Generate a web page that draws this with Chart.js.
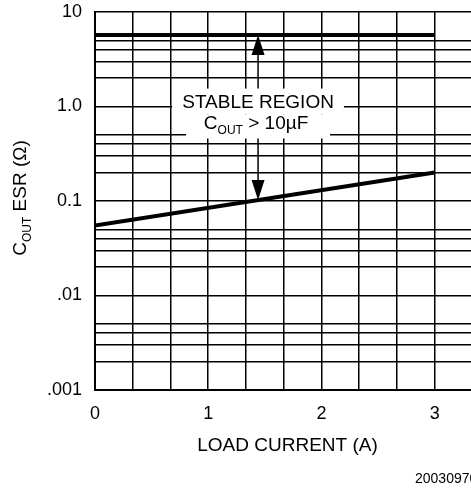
<!DOCTYPE html>
<html>
<head>
<meta charset="utf-8">
<script src="https://cdn.jsdelivr.net/npm/chart.js@4/dist/chart.umd.min.js"></script>
<style>
  html, body { margin: 0; padding: 0; background: #fff; overflow: hidden; }
  #wrap { width: 480px; height: 489px; }
</style>
</head>
<body>
<div id="wrap"><canvas id="esrChart" width="480" height="489"></canvas></div>
<script>
// ESR stability boundaries vs load current
const loadCurrent = [0, 3];
const esrUpper = [5.7, 5.7];
const esrLower = [0.055, 0.2];

const xTickLabels = [0, 1, 2, 3];
const xMinorPerUnit = 3;
const xMax = 3.4;
const yDecades = [0.001, 0.01, 0.1, 1, 10];
const yDecadeLabels = ['.001', '.01', '0.1', '1.0', '10'];
const yGridSteps = [1, 2, 3, 4, 5];

const arrowAt = 1.44;   // load current where the arrows sit
const FONT = 'Arial, "Liberation Sans", Helvetica, sans-serif';

Chart.defaults.font.family = FONT;
Chart.defaults.color = '#000';

const xGrid = [];
for (let i = 0; i <= Math.floor(xMax * xMinorPerUnit); i++) xGrid.push(i / xMinorPerUnit);

const yGrid = [];
yDecades.slice(0, -1).forEach(d => yGridSteps.forEach(s => yGrid.push(d * s)));
yGrid.push(yDecades[yDecades.length - 1]);

// text with a subscript part, centred on x
function drawParts(ctx, parts, x, y) {
    let w = 0;
    parts.forEach(p => {
        ctx.font = (p.sub ? '12px ' : '19px ') + FONT;
        p.w = ctx.measureText(p.t).width;
        w += p.w;
    });
    let cx = x - w / 2;
    ctx.textAlign = 'left';
    ctx.textBaseline = 'middle';
    parts.forEach(p => {
        ctx.font = (p.sub ? '12px ' : '19px ') + FONT;
        ctx.fillText(p.t, cx, p.sub ? y + 7 : y);
        cx += p.w;
    });
    return w;
}

function arrow(ctx, x, from, to) {
    const dir = to > from ? 1 : -1;
    const base = to - dir * 20;
    ctx.beginPath();
    ctx.moveTo(x, from);
    ctx.lineTo(x, base);
    ctx.stroke();
    ctx.beginPath();
    ctx.moveTo(x, to);
    ctx.lineTo(x - 6.5, base);
    ctx.lineTo(x + 6.5, base);
    ctx.closePath();
    ctx.fill();
}

const stableRegion = {
    id: 'stableRegion',
    afterDatasetsDraw(chart) {
        const {ctx, scales: {x, y}} = chart;
        const ax = x.getPixelForValue(arrowAt);
        const y1 = y.getPixelForValue(1.1);
        const y2 = y.getPixelForValue(0.66);

        ctx.save();
        ctx.fillStyle = '#fff';
        ctx.font = '19px ' + FONT;
        const w1 = ctx.measureText('STABLE REGION').width;
        ctx.fillRect(ax - w1 / 2 - 10, y1 - 14, w1 + 20, 26);
        ctx.fillRect(ax - 72, y2 - 9, 144, 24);

        ctx.fillStyle = '#000';
        ctx.textAlign = 'center';
        ctx.textBaseline = 'middle';
        ctx.fillText('STABLE REGION', ax, y1);
        drawParts(ctx, [{t: 'C'}, {t: 'OUT', sub: true}, {t: ' > 10\u00b5F'}], ax - 2, y2);

        // arrows to the two boundaries
        ctx.strokeStyle = '#000';
        ctx.lineWidth = 1.5;
        const topY = y.getPixelForValue(esrUpper[0]);
        arrow(ctx, ax, y1 - 14, topY);
        const pts = chart.getDatasetMeta(1).data;
        const t = (ax - pts[0].x) / (pts[1].x - pts[0].x);
        const lowY = pts[0].y + t * (pts[1].y - pts[0].y);
        arrow(ctx, ax, y2 + 15, lowY);

        // y axis title with subscript
        ctx.translate(21, (chart.chartArea.top + chart.chartArea.bottom) / 2 - 3);
        ctx.rotate(-Math.PI / 2);
        drawParts(ctx, [{t: 'C'}, {t: 'OUT', sub: true}, {t: ' ESR (\u03a9)'}], 0, 0);
        ctx.restore();

        // figure number, cut by the page edge
        ctx.save();
        ctx.font = '14px ' + FONT;
        ctx.textAlign = 'left';
        ctx.textBaseline = 'middle';
        ctx.fillText('20030970', 415, 479);
        ctx.restore();
    }
};

new Chart(document.getElementById('esrChart'), {
    type: 'line',
    data: {
        datasets: [{
            data: loadCurrent.map((v, i) => ({x: v, y: esrUpper[i]})),
            borderColor: '#000',
            borderWidth: 4,
            pointRadius: 0
        }, {
            data: loadCurrent.map((v, i) => ({x: v, y: esrLower[i]})),
            borderColor: '#000',
            borderWidth: 4,
            pointRadius: 0
        }]
    },
    options: {
        responsive: false,
        animation: false,
        layout: { autoPadding: false, padding: { top: 12, left: 0, right: 0, bottom: 0 } },
        plugins: {
            legend: { display: false },
            tooltip: { enabled: false }
        },
        scales: {
            x: {
                type: 'linear',
                min: 0,
                max: xMax,
                afterBuildTicks: s => { s.ticks = xGrid.map(v => ({value: v})); },
                afterFit: s => { s.height = 99; s.paddingLeft = 0; s.paddingRight = 0; },
                ticks: {
                    autoSkip: false,
                    maxRotation: 0,
                    padding: 13,
                    font: { size: 18 },
                    callback: v => xTickLabels.includes(v) ? String(v) : ''
                },
                grid: { color: '#000', lineWidth: 1.5, drawTicks: false },
                border: { display: true, color: '#000', width: 2 },
                title: {
                    display: true,
                    text: 'LOAD CURRENT (A)',
                    font: { size: 19 },
                    padding: { top: 0, bottom: 32 }
                }
            },
            y: {
                type: 'logarithmic',
                min: yDecades[0],
                max: yDecades[yDecades.length - 1],
                afterBuildTicks: s => { s.ticks = yGrid.map(v => ({value: v})); },
                afterFit: s => { s.width = 95; s.paddingTop = 0; s.paddingBottom = 0; },
                ticks: {
                    autoSkip: false,
                    padding: 13,
                    font: { size: 18 },
                    callback: v => {
                        const i = yDecades.indexOf(v);
                        return i >= 0 ? yDecadeLabels[i] : '';
                    }
                },
                grid: { color: '#000', lineWidth: 1.5, drawTicks: false },
                border: { display: true, color: '#000', width: 2 }
            }
        }
    },
    plugins: [stableRegion]
});
</script>
</body>
</html>
